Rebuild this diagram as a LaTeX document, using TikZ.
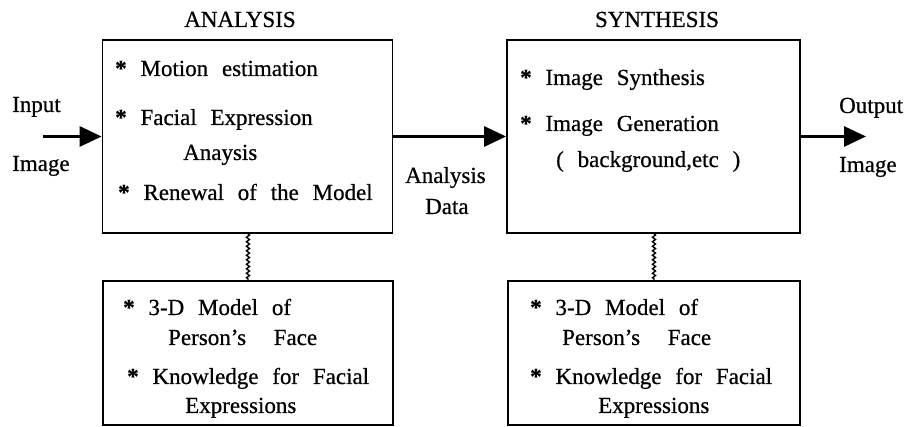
\documentclass[tikz,border=0pt]{standalone}
\usepackage{fontspec}
\setmainfont{Liberation Serif}
\newfontfamily\scanfont[Ligatures=TeX,FakeBold=0.6]{Liberation Serif}
\usetikzlibrary{arrows.meta,decorations.pathmorphing}

\newcommand\boxfont{\scanfont\fontsize{23}{27}\selectfont\spaceskip 0.6em\relax}
\newcommand\itm{\textbf{*}}

\tikzset{
  block/.style={draw, line width=1.8pt, inner sep=0pt},
  flow/.style={line width=3pt, -{Triangle[length=22pt,width=20pt]}},
  link/.style={line width=1.4pt, decorate, decoration={zigzag, amplitude=1.5pt, segment length=4.5pt}},
  txt/.style={anchor=base west, inner sep=0pt, font=\boxfont},
  title/.style={anchor=base, inner sep=0pt, font=\boxfont}
}

\begin{document}
\begin{tikzpicture}[x=1pt,y=-1pt]
\useasboundingbox (0,0) rectangle (908,427);

%draw the four boxes
\node [block, minimum width=290pt, minimum height=193pt] (analysis) at (247.5,136.5) {};
\node [block, minimum width=293pt, minimum height=193pt] (synthesis) at (653.5,136.5) {};
\node [block, minimum width=290pt, minimum height=144pt] (modelA) at (248,353) {};
\node [block, minimum width=292pt, minimum height=144pt] (modelB) at (654,353) {};

\node [title] (analysistitle) at (240,27) {ANALYSIS};
\node [title] (synthesistitle) at (657,27) {SYNTHESIS};

%text inside the boxes
\node [txt] (motion) at (115,76) {\itm\ Motion estimation};
\node [txt] (facial) at (115,125) {\itm\ Facial Expression};
\node [txt] (anaysis) at (183,160) {Anaysis};
\node [txt] (renewal) at (118,200) {\itm\ Renewal of the Model};

\node [txt] (imsynth) at (520,85) {\itm\ Image Synthesis};
\node [txt] (imgen) at (520,131) {\itm\ Image Generation};
\node [txt] (backgr) at (556,167) {( background,etc )};

\node [txt] (modelAa) at (123,315) {\itm\ 3-D Model of};
\node [txt] (modelAb) at (168,345) {Person's\ \ Face};
\node [txt] (modelAc) at (127,384) {\itm\ Knowledge for\ Facial};
\node [txt] (modelAd) at (185,413) {Expressions};

\node [txt] (modelBa) at (530,315) {\itm\ 3-D Model of};
\node [txt] (modelBb) at (562,345) {Person's\ \ Face};
\node [txt] (modelBc) at (530,384) {\itm\ Knowledge for\ Facial};
\node [txt] (modelBd) at (598,413) {Expressions};

%labels on the arrows
\node [txt] (inputa) at (12,112) {Input};
\node [txt] (inputb) at (12,171) {Image};
\node [txt] (dataa) at (405,183) {Analysis};
\node [txt] (datab) at (425,214) {Data};
\node [txt] (outputa) at (839,113) {Output};
\node [txt] (outputb) at (839,172) {Image};

%arrows and links
\coordinate (in) at (43,136.5);
\coordinate (out) at (866,136.5);
\draw [flow] (in) -- (analysis.west);
\draw [flow] (analysis.east) -- (synthesis.west);
\draw [flow] (synthesis.east) -- (out);
\draw [link] (analysis.south -| modelA.north) -- (modelA.north);
\draw [link] (synthesis.south -| modelB.north) -- (modelB.north);

\end{tikzpicture}
\end{document}
